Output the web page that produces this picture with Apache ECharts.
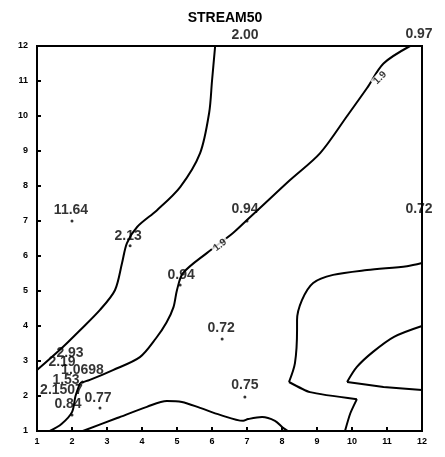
<!DOCTYPE html>
<html><head><meta charset="utf-8">
<script src="https://cdn.jsdelivr.net/npm/echarts@6/dist/echarts.min.js"></script>
<style>html,body{margin:0;padding:0;background:#fff}#c{width:445px;height:457px}</style>
</head><body><div id="c"></div>
<script>
const titleText = 'STREAM50';
const xTicks = [1,2,3,4,5,6,7,8,9,10,11,12];
const yTicks = [1,2,3,4,5,6,7,8,9,10,11,12];

// Station values and locations
const stationLabels = ['2.00','0.97','11.64','2.13','0.94','0.72','0.94','0.72','0.75','2.93','2.19','1.0698','1.53','2.1507','0.84','0.77'];
const stationX = [7,12,2,3.66,7,12,5.09,6.29,6.94,2,2,2.3,2,1.7,2,2.8];
const stationY = [12,12,7,6.29,7,7,5.17,3.63,1.97,3.0,2.7,2.4,2.2,1.95,1.46,1.66];
const stationDot = [false,false,true,true,true,false,true,true,true,false,false,true,false,false,true,true];
// label nudges (style)
const labelNudge = [[-2,-3],[-3,-4],[-1,-1],[-2,0],[-2,-2],[-3,-4],[1,0],[-1,-1],[0,-2],[-2,0],[-10,-1],[0,-2],[-6,-1],[0,0],[-4,-1],[-2,0]];

// Contour lines (data coordinates)
const contourA = [[6.09,12],[6.0,11],[5.92,10.1],[5.66,8.94],[5.09,7.97],[4.43,7.31],[3.86,6.83],[3.57,6.37],[3.43,5.8],[3.23,5.03],[2.8,4.46],[2.2,3.85],[1.74,3.4],[1,2.74]];
const contourB1 = [[11.66,12],[10.9,11.5],[10.43,10.8],[9.86,10.0],[9.09,8.94],[8.23,8.17],[7.37,7.37],[7,7.03],[6.6,6.66],[5.86,6.09],[5.17,5.51],[5,5.03],[4.9,4.54],[4.7,4.1],[4.4,3.65],[3.94,3.11],[3.17,2.74],[2.51,2.46],[2.23,2.37]];
const contourB2 = [[2.23,2.37],[2.1,2.0],[2,1.54],[1.7,1.2],[1.37,1.0]];
const contourC = [[2.31,1.0],[3.29,1.37],[4.14,1.69],[4.71,1.86],[5.14,1.83],[5.66,1.66],[6.23,1.46],[6.89,1.29],[7.03,1.34],[7.43,1.4],[7.8,1.29],[8.03,1.09],[8.17,1.0]];
const contourD1 = [[12,5.8],[11.57,5.71],[10.43,5.6],[9.46,5.46],[8.89,5.23],[8.57,4.74],[8.43,4.17],[8.43,3.89],[8.37,2.94],[8.2,2.4]];
const contourD2 = [[8.2,2.4],[8.8,2.11],[10.14,1.91]];
const contourD3 = [[10.14,1.91],[9.95,1.5],[9.8,1.0]];
const contourE1 = [[12,4.0],[11.2,3.69],[10.6,3.26],[10.14,2.83],[9.86,2.4]];
const contourE2 = [[9.86,2.4],[10.9,2.26],[12,2.17]];

// Contour level labels
const levelLabels = ['1.9','1.9'];
const levelX = [10.8,6.23];
const levelY = [11.09,6.31];
const levelRotate = [45,38];

const chart = echarts.init(document.getElementById('c'), null, {renderer:'canvas'});
const lineStyle = {color:'#000', width:2};
function contour(d, smooth){
  return {type:'line', data:d, smooth:smooth, symbol:'none', lineStyle:lineStyle, silent:true, z:2};
}
const font = 'Liberation Sans, Arial, sans-serif';
const series = [
  contour(contourA,0.3), contour(contourB1,0.3), contour(contourB2,0.3),
  contour(contourC,0.3), contour(contourD1,0.3), contour(contourD2,0.2),
  contour(contourD3,0.2), contour(contourE1,0.3), contour(contourE2,0.1),
  {
    type:'scatter', z:5,
    data: stationLabels.map((t,i)=>({
      value:[stationX[i],stationY[i]],
      symbolSize: stationDot[i]?3:0,
      label:{show:true, formatter:t, position:'top', distance:1, offset:labelNudge[i]}
    })),
    itemStyle:{color:'#000'},
    label:{color:'#000', fontSize:14, fontWeight:'bold', fontFamily:font}
  },
  {
    type:'scatter', z:6, symbolSize:0,
    data: levelLabels.map((t,i)=>({
      value:[levelX[i],levelY[i]],
      label:{show:true, formatter:t, position:'inside', rotate:levelRotate[i]}
    })),
    label:{color:'#000', fontSize:10, fontWeight:'bold', backgroundColor:'#fff', padding:[0,2], fontFamily:font}
  }
];
chart.setOption({
  animation:false,
  backgroundColor:'#fff',
  title:{text:titleText, left:220, textAlign:'center', top:6, textStyle:{fontSize:14, fontWeight:'bold', color:'#000', fontFamily:font}},
  grid:{left:37, right:23, top:46, bottom:26, show:true, borderColor:'#000', borderWidth:2, backgroundColor:'transparent'},
  xAxis:{type:'value', min:1, max:12, interval:1,
    axisLine:{lineStyle:{color:'#000', width:2}},
    axisTick:{inside:true, length:4, lineStyle:{color:'#000', width:2}},
    axisLabel:{color:'#000', fontSize:9, fontWeight:'bold', margin:6, fontFamily:font, formatter:v=>xTicks.includes(v)?String(v):''},
    splitLine:{show:false}},
  yAxis:{type:'value', min:1, max:12, interval:1,
    axisLine:{lineStyle:{color:'#000', width:2}},
    axisTick:{inside:true, length:4, lineStyle:{color:'#000', width:2}},
    axisLabel:{color:'#000', fontSize:9, fontWeight:'bold', margin:9, fontFamily:font, formatter:v=>yTicks.includes(v)?String(v):''},
    splitLine:{show:false}},
  series:series
});
</script></body></html>
